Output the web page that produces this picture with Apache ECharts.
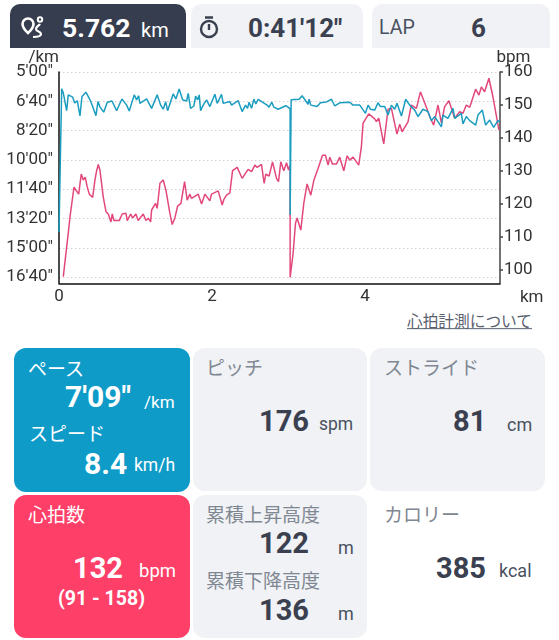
<!DOCTYPE html>
<html>
<head>
<meta charset="utf-8">
<script src="https://cdn.jsdelivr.net/npm/echarts@6/dist/echarts.min.js"></script>
<style>
html,body{margin:0;padding:0;background:#fff;}
body{position:relative;width:559px;height:640px;overflow:hidden;font-family:Roboto,"Noto Sans CJK JP",sans-serif;color:#3a4050;}
#chart{position:absolute;left:0;top:40px;width:559px;height:270px;}
.card{position:absolute;background:#f0f2f5;border-radius:12px;}
.t{position:absolute;line-height:1;white-space:nowrap;transform:translateY(-50%);}
.b{font-weight:700;}
.u{color:#4a5160;}
.lab{color:#7f8792;font-size:19px;}
.w{color:#fff;}
svg{position:absolute;}
</style>
</head>
<body>
<div class="card" style="left:10px;top:4px;width:176px;height:44px;background:#363d4e;border-radius:10px 10px 0 0"></div>
<div class="card" style="left:191px;top:4px;width:172px;height:44px;border-radius:10px 10px 0 0"></div>
<div class="card" style="left:372px;top:4px;width:178px;height:44px;border-radius:10px 10px 0 0"></div>

<svg style="left:20px;top:15px" width="26" height="26" viewBox="0 0 26 26" fill="none" stroke="#fff" stroke-width="2.6">
  <path d="M8 9m-5.5 0a5.5 5.5 0 1 1 11 0c0 4-5.5 9-5.5 9s-5.5-5-5.5-9z"/>
  <circle cx="20" cy="4.5" r="2.2" stroke-width="2"/>
  <path d="M20 9c-1 2-4 2-4 5s5 2 5 5-5 3-8 3" stroke-width="2.2"/>
</svg>
<span class="t b w" style="left:62px;top:28px;font-size:26.5px">5.762</span>
<span class="t w" style="left:141px;top:30px;font-size:20px">km</span>

<svg style="left:198px;top:15px" width="22" height="24" viewBox="0 0 22 24" fill="none" stroke="#3a4050" stroke-width="2.4">
  <circle cx="11" cy="14" r="8"/><path d="M7 2.5h8M11 9v6" />
</svg>
<span class="t b" style="left:248px;top:28px;font-size:26px">0:41'12"</span>
<span class="t u" style="left:379px;top:28px;font-size:19.5px">LAP</span>
<span class="t b" style="left:471px;top:28px;font-size:26px">6</span>

<div id="chart"></div>
<span class="t" style="left:407px;top:322px;font-size:15.7px;color:#596170;text-decoration:underline">心拍計測について</span>

<div class="card" style="left:14px;top:348px;width:176px;height:144px;background:#0f9bc8"></div>
<div class="card" style="left:193px;top:348px;width:174px;height:143px"></div>
<div class="card" style="left:370px;top:348px;width:175px;height:143px"></div>
<div class="card" style="left:14px;top:495px;width:176px;height:143px;background:#fe4069"></div>
<div class="card" style="left:193px;top:495px;width:174px;height:143px"></div>

<span class="t w" style="left:28px;top:369px;font-size:19px">ペース</span>
<span class="t b w" style="left:65px;top:397px;font-size:30px">7'09"</span>
<span class="t w" style="left:144px;top:402px;font-size:17px">/km</span>
<span class="t w" style="left:29px;top:434px;font-size:19px">スピード</span>
<span class="t b w" style="left:84px;top:464px;font-size:30px">8.4</span>
<span class="t w" style="left:134px;top:466px;font-size:17.5px">km/h</span>

<span class="t lab" style="left:206px;top:368px">ピッチ</span>
<span class="t b" style="left:259px;top:421px;font-size:29px">176</span>
<span class="t u" style="left:319px;top:425px;font-size:17.5px">spm</span>

<span class="t lab" style="left:384px;top:368px">ストライド</span>
<span class="t b" style="left:453px;top:421px;font-size:29px">81</span>
<span class="t u" style="left:507px;top:425px;font-size:18px">cm</span>

<span class="t w" style="left:28px;top:515px;font-size:19px">心拍数</span>
<span class="t b w" style="left:73px;top:568px;font-size:29px">132</span>
<span class="t w" style="left:139px;top:571px;font-size:18.5px">bpm</span>
<span class="t b w" style="left:58px;top:599px;font-size:19.5px">(91 - 158)</span>

<span class="t lab" style="left:206px;top:515px">累積上昇高度</span>
<span class="t b" style="left:259px;top:543px;font-size:29px">122</span>
<span class="t u" style="left:338px;top:548px;font-size:18px">m</span>
<span class="t lab" style="left:206px;top:581px">累積下降高度</span>
<span class="t b" style="left:259px;top:610px;font-size:29px">136</span>
<span class="t u" style="left:338px;top:614px;font-size:18px">m</span>

<span class="t lab" style="left:384px;top:515px">カロリー</span>
<span class="t b" style="left:436px;top:568px;font-size:29px">385</span>
<span class="t u" style="left:499px;top:571px;font-size:18px">kcal</span>

<script>
// pace, seconds per km
var paceKm = [0,0.035,0.056,0.082,0.10,0.121,0.179,0.205,0.239,0.274,0.30,0.352,0.405,0.44,0.483,0.509,0.535,0.584,0.631,0.692,0.753,0.822,0.884,0.918,0.983,1.014,1.04,1.057,1.145,1.21,1.283,1.328,1.362,1.393,1.419,1.492,1.527,1.57,1.615,1.667,1.688,1.719,1.762,1.785,1.811,1.832,1.85,1.884,1.928,1.971,2.037,2.067,2.124,2.145,2.232,2.255,2.341,2.393,2.437,2.463,2.484,2.516,2.546,2.572,2.602,2.719,2.745,2.781,2.807,2.863,2.963,2.993,3.02,3.02,3.033,3.137,3.176,3.255,3.268,3.29,3.372,3.416,3.495,3.56,3.603,3.668,3.799,3.842,3.93,3.951,4.004,4.038,4.069,4.125,4.168,4.2,4.256,4.299,4.343,4.386,4.416,4.474,4.53,4.582,4.648,4.691,4.756,4.821,4.866,4.909,4.996,5.017,5.082,5.148,5.17,5.257,5.278,5.322,5.366,5.444,5.474,5.531,5.574,5.627,5.679,5.735,5.762];
var paceSec = [846,357,371,375,432,378,386,406,398,450,384,369,395,418,449,401,419,437,403,399,432,392,413,433,378,395,381,407,392,424,378,413,427,401,432,375,392,358,395,399,373,424,416,382,395,378,432,413,395,418,376,407,376,407,401,413,398,435,413,424,403,424,393,409,393,413,420,403,420,427,415,420,426,788,395,393,381,410,393,413,418,405,402,393,416,405,403,413,413,418,441,413,427,430,405,418,418,447,413,427,407,450,393,413,430,452,427,435,466,452,487,447,458,424,458,441,477,452,466,481,447,430,481,464,489,466,469];

// heart rate, bpm
var hrKm = [0.056,0.121,0.144,0.196,0.222,0.257,0.291,0.317,0.343,0.369,0.396,0.44,0.47,0.492,0.513,0.535,0.578,0.614,0.644,0.679,0.696,0.718,0.787,0.826,0.875,0.892,0.936,0.962,1.005,1.035,1.101,1.136,1.166,1.197,1.21,1.262,1.283,1.319,1.362,1.397,1.449,1.479,1.514,1.55,1.593,1.641,1.675,1.71,1.732,1.819,1.863,1.906,1.971,1.993,2.08,2.132,2.154,2.189,2.232,2.268,2.328,2.393,2.471,2.516,2.559,2.589,2.646,2.68,2.702,2.745,2.79,2.842,2.868,2.898,2.937,2.973,2.999,3.02,3.02,3.059,3.09,3.111,3.137,3.159,3.198,3.241,3.29,3.329,3.385,3.443,3.481,3.516,3.538,3.573,3.625,3.668,3.721,3.764,3.799,3.842,3.916,3.951,3.973,3.995,4.047,4.125,4.147,4.178,4.243,4.299,4.343,4.416,4.452,4.482,4.56,4.604,4.67,4.722,4.743,4.8,4.852,4.896,4.952,4.996,5.039,5.095,5.17,5.235,5.278,5.322,5.366,5.444,5.487,5.519,5.561,5.617,5.67,5.748];
var hrBpm = [98,111.2,116.2,125.1,125.1,123,129.1,127.3,128.1,125.2,123,122,127.3,130.1,132,130.3,122.2,117.7,117,114.6,117,115,115,117,117.2,115,117,115.8,117,115,117,115,115.7,114.6,118.2,120.2,118.7,126.3,127.3,124.2,117.2,113.8,115.8,119.4,120.2,126.8,121.2,123,121.7,123,120,123,121,123,124,119.7,121.4,122.7,123.4,130.1,131.1,127.8,130.5,129.8,131.8,131.1,132,126.3,129.1,128.5,132.8,127.8,126.8,132.8,130.1,132.5,130.3,131.8,97.8,105.1,114.2,115.8,115.8,112.1,120.2,126.1,122.7,127.1,130.8,134.8,134.8,131.8,134.2,132.1,132.1,134.2,130.1,134.6,133.3,134.2,131.8,137.4,144.5,145,147.3,145.8,145,146,138.2,148.7,149,141.2,144.2,141.9,144.9,150,149,154,154,149.3,146,143.9,150,144.6,149.5,151.3,146,148,147.5,150,149.3,154.8,153,155.5,154,158.1,152.5,142.4];

// tick labels
var xTicks = [0,2,4];
var paceTicks = [300,400,500,600,700,800,900,1000];
var hrTicks = [100,110,120,130,140,150,160];

var chart = echarts.init(document.getElementById('chart'));

function paceLabel(v) {
    var s = v % 60;
    return Math.floor(v / 60) + "'" + (s < 10 ? '0' + s : s) + '"';
}

var labelFont = {color: '#333', fontSize: 17, fontFamily: 'Roboto'};

chart.setOption({
    animation: false,
    grid: {left: 59, top: 32, width: 441, height: 211.3, outerBoundsMode: 'none'},
    xAxis: {
        type: 'value', min: 0, max: 5.762,
        name: 'km', nameLocation: 'end', nameGap: 20,
        nameTextStyle: {color: '#333', fontSize: 17, fontFamily: 'Roboto', align: 'left', verticalAlign: 'top', padding: [6, 0, 0, 0]},
        axisLine: {show: true, lineStyle: {color: '#111', width: 1.5}},
        axisTick: {show: false, customValues: xTicks},
        axisLabel: Object.assign({margin: 5, customValues: xTicks}, labelFont),
        splitLine: {show: false}
    },
    yAxis: [
        {
            type: 'value', min: 300, max: 1021, inverse: true, position: 'left',
            name: '/km', nameLocation: 'start', nameGap: 6, nameMoveOverlap: false,
            nameTextStyle: {color: '#333', fontSize: 17, fontFamily: 'Roboto', align: 'right'},
            axisLine: {show: true, onZero: false, lineStyle: {color: '#111', width: 1.5}},
            axisTick: {show: false, customValues: paceTicks},
            axisLabel: Object.assign({margin: 6, customValues: paceTicks, formatter: paceLabel}, labelFont),
            splitLine: {show: true, lineStyle: {color: '#d0d0d0', type: [1.5, 2.5], width: 1}}
        },
        {
            type: 'value', min: 96, max: 160, position: 'right',
            name: 'bpm', nameLocation: 'end', nameGap: 6, nameMoveOverlap: false,
            nameTextStyle: {color: '#333', fontSize: 17, fontFamily: 'Roboto', align: 'center', padding: [0, 0, 0, 27]},
            axisLine: {show: true, onZero: false, lineStyle: {color: '#444', width: 1.5}},
            axisTick: {show: true, length: 3, customValues: hrTicks, lineStyle: {color: '#444', width: 1.5}},
            axisLabel: Object.assign({margin: 4, customValues: hrTicks}, labelFont),
            splitLine: {show: false}
        }
    ],
    series: [
        {
            name: '心拍数', type: 'line', yAxisIndex: 1, symbol: 'none',
            lineStyle: {color: '#e2497a', width: 1.5},
            data: hrKm.map(function (km, i) { return [km, hrBpm[i]]; })
        },
        {
            name: 'ペース', type: 'line', yAxisIndex: 0, symbol: 'none',
            lineStyle: {color: '#1b9dc0', width: 1.5},
            data: paceKm.map(function (km, i) { return [km, paceSec[i]]; })
        }
    ]
});
</script>
</body>
</html>
